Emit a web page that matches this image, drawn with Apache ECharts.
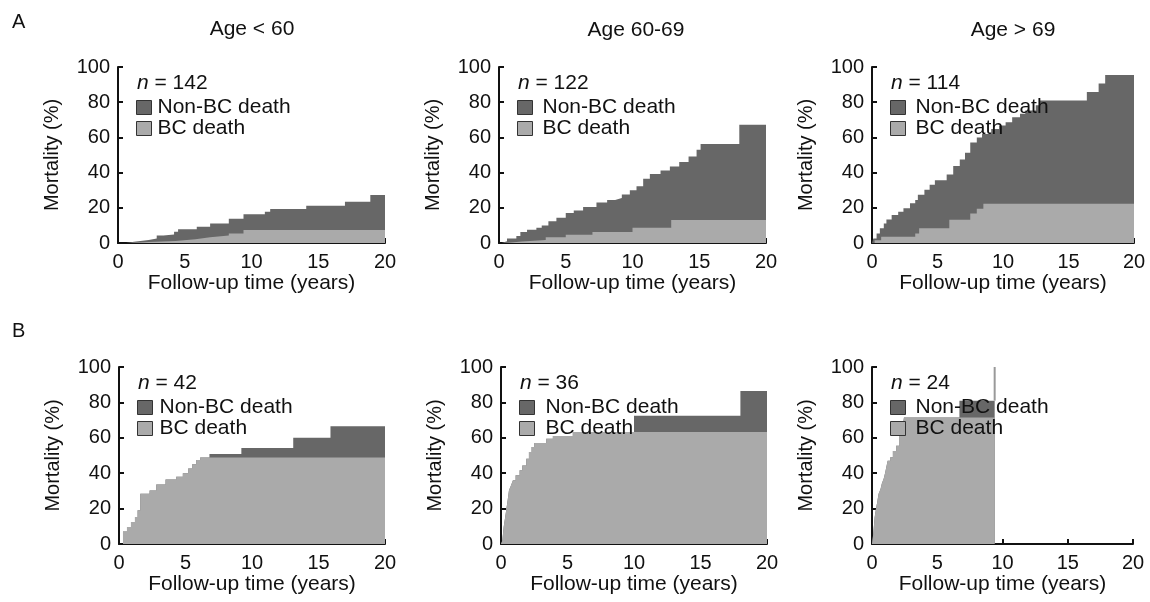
<!DOCTYPE html>
<html><head><meta charset="utf-8">
<script src="https://cdn.jsdelivr.net/npm/echarts@6/dist/echarts.min.js"></script>
<style>html,body{margin:0;padding:0;background:#fff}#c{width:1150px;height:602px}</style>
</head><body><div id="c"></div>
<script>
// ---------- data ----------
const rowLetters = ['A', 'B'];
const panelTitles = ['Age < 60', 'Age 60-69', 'Age > 69'];
const sampleSizes = [142, 122, 114, 42, 36, 24];
const seriesNames = ['Non-BC death', 'BC death'];
const xName = 'Follow-up time (years)';
const yName = 'Mortality (%)';
const xTickValues = [0, 5, 10, 15, 20];
const yTickValues = [0, 20, 40, 60, 80, 100];

// cumulative mortality [years, %]; "total" = BC + non-BC (top of the dark area)
const a1Total = [[0,0],[0.6,0.7],[1.2,1.7],[2.3,2.5],[2.9,4.3],[3.4,4.9],[4.2,6.4],[4.5,7.8],[5.9,9.3],[6.9,11.1],[8.3,13.8],[9.4,16.3],[11.0,17.8],[11.4,19.3],[14.1,21.2],[17.0,23.5],[18.9,27.3],[20,27.3]];
const a1Bc    = [[0,0],[1.0,0.5],[2.3,1.2],[4.3,2.1],[5.8,3.2],[6.9,4.2],[8.3,5.4],[9.4,7.4],[20,7.4]];

const a2Total = [[0,0],[0.2,1],[0.6,2.5],[1.3,4],[1.6,6.2],[2.1,7.5],[2.8,8.7],[3.2,10],[3.7,12.4],[4.3,14.3],[5.0,17.0],[5.6,18.5],[6.3,20.5],[7.3,23],[8.1,24.5],[8.7,25.5],[9.2,27.5],[9.8,30],[10.3,32.2],[10.8,36.5],[11.3,39.2],[12.1,41.2],[12.8,43.5],[13.5,46],[14.2,49.2],[14.8,53],[15.1,56.3],[18.0,67.2],[20,67.2]];
const a2Bc    = [[0,0],[0.5,0.8],[1.7,1.7],[3.5,3.2],[5.0,4.7],[7.0,6.3],[10.0,8.7],[12.9,13],[20,13]];

const a3Total = [[0,0],[0.1,2.5],[0.35,5.4],[0.6,8.4],[0.9,11.1],[1.1,13.4],[1.5,15.9],[2.0,17.8],[2.4,19.7],[2.9,22.6],[3.3,24.5],[3.5,27.4],[4.0,30.3],[4.4,33.1],[4.8,35.6],[5.7,38.9],[6.2,43.7],[6.7,47.5],[7.1,51.3],[7.5,57.1],[8.0,60],[8.4,61.9],[9.1,64.8],[9.7,66.7],[10.2,68.6],[10.7,71.5],[11.3,73.4],[11.7,75.3],[12.5,78.2],[12.8,81],[16.4,85.8],[17.3,90.6],[17.8,95.4],[20,95.4]];
const a3Bc    = [[0,0],[0.2,1.5],[0.7,3.6],[3.3,5.4],[3.6,8.4],[5.9,13.2],[7.5,16.7],[8.0,19.5],[8.5,22.3],[20,22.3]];

const b1Bc    = [[0,0],[0.3,7],[0.6,9.6],[0.9,12.4],[1.2,15.3],[1.4,19],[1.6,28.4],[2.3,30.2],[2.8,33.6],[3.5,36.5],[4.3,38],[4.8,40],[5.2,42.6],[5.5,45],[5.8,47.5],[6.1,48.8],[20,48.8]];
const b1Total = [[0,0],[0.3,7],[0.6,9.6],[0.9,12.4],[1.2,15.3],[1.4,19],[1.6,28.4],[2.3,30.2],[2.8,33.6],[3.5,36.5],[4.3,38],[4.8,40],[5.2,42.6],[5.5,45],[5.8,47.5],[6.1,48.8],[6.8,50.8],[9.2,54.2],[13.1,60],[15.9,66.5],[20,66.5]];

const b2Bc    = [[0,0],[0.1,2],[0.2,9.6],[0.35,17],[0.5,24.7],[0.6,30.3],[0.75,33],[0.9,36],[1.1,38.8],[1.4,41.6],[1.6,44.4],[1.9,48.2],[2.1,52],[2.3,54.8],[2.5,57],[3.4,59.5],[3.9,61],[5.4,63.3],[20,63.3]];
const b2Total = [[0,0],[0.1,2],[0.2,9.6],[0.35,17],[0.5,24.7],[0.6,30.3],[0.75,33],[0.9,36],[1.1,38.8],[1.4,41.6],[1.6,44.4],[1.9,48.2],[2.1,52],[2.3,54.8],[2.5,57],[3.4,59.5],[3.9,61],[5.4,63.3],[10.0,72.5],[18.0,86.5],[20,86.5]];

const b3Bc    = [[0,0],[0.1,6],[0.2,15],[0.3,19.8],[0.4,23.6],[0.5,28.3],[0.65,31],[0.75,34],[0.9,37],[1.0,40],[1.1,43.5],[1.2,47],[1.4,49],[1.6,52.5],[1.85,55.5],[2.1,61],[2.3,64],[2.45,71.5],[9.4,71.5]];
const b3Total = [[0,0],[0.1,6],[0.2,15],[0.3,19.8],[0.4,23.6],[0.5,28.3],[0.65,31],[0.75,34],[0.9,37],[1.0,40],[1.1,43.5],[1.2,47],[1.4,49],[1.6,52.5],[1.85,55.5],[2.1,61],[2.3,64],[2.45,71.5],[6.7,81],[9.4,81]];
const b3FinalStep = [[9.4,81],[9.4,100]];

const totals = [a1Total, a2Total, a3Total, b1Total, b2Total, b3Total];
const bcs    = [a1Bc, a2Bc, a3Bc, b1Bc, b2Bc, b3Bc];

// ---------- layout / style ----------
const FONT = 'Liberation Sans, Arial, Helvetica, sans-serif';
const DARK = '#676767', LIGHT = '#aaaaaa', INK = '#111';
const grids = [
  {left:118, top:67,  width:267, height:176},
  {left:499, top:67,  width:267, height:176},
  {left:872, top:67,  width:262, height:176},
  {left:119, top:367, width:266, height:177},
  {left:501, top:367, width:266, height:177},
  {left:872, top:367, width:261, height:177}
];
const legendGap = [6, 10, 10, 7, 11, 10];
const titlePos = [[252, 29], [636, 30], [1013, 30]];
const letterPos = [[12, 22], [12, 331]];

const xAxes = [], yAxes = [], series = [], legends = [], graphics = [];
grids.forEach((g, i) => {
  xAxes.push({
    gridIndex: i, type: 'value', min: 0, max: 20, interval: 5,
    name: xName, nameLocation: 'middle', nameGap: 28,
    nameTextStyle: {fontSize: 21, color: INK, fontFamily: FONT},
    axisLine: {show: true, onZero: false, lineStyle: {color: INK, width: 2}},
    axisTick: {show: true, inside: true, length: 5, lineStyle: {color: INK, width: 2}},
    axisLabel: {fontSize: 20, color: INK, fontFamily: FONT, margin: 9,
      customValues: xTickValues},
    splitLine: {show: false}
  });
  yAxes.push({
    gridIndex: i, type: 'value', min: 0, max: 100, interval: 20,
    name: yName, nameLocation: 'middle', nameGap: 56,
    nameTextStyle: {fontSize: 20, color: INK, fontFamily: FONT},
    axisLine: {show: true, onZero: false, lineStyle: {color: INK, width: 2}},
    axisTick: {show: true, inside: true, length: 5, lineStyle: {color: INK, width: 2}},
    axisLabel: {fontSize: 20, color: INK, fontFamily: FONT, margin: 8},
    splitLine: {show: false}
  });
  series.push({
    type: 'line', name: seriesNames[0], data: totals[i], step: 'end',
    xAxisIndex: i, yAxisIndex: i, symbol: 'none', silent: true,
    lineStyle: {width: 0}, itemStyle: {color: DARK},
    areaStyle: {color: DARK, opacity: 1}, z: 2
  });
  series.push({
    type: 'line', name: seriesNames[1], data: bcs[i], step: 'end',
    xAxisIndex: i, yAxisIndex: i, symbol: 'none', silent: true,
    lineStyle: {width: 0}, itemStyle: {color: LIGHT},
    areaStyle: {color: LIGHT, opacity: 1}, z: 3
  });
  legends.push({
    left: g.left + 18, top: g.top + 40.5 - 10.5, orient: 'vertical',
    padding: 0, itemGap: 0, itemWidth: 15, itemHeight: 14, icon: 'rect',
    selectedMode: false, data: seriesNames,
    itemStyle: {borderColor: '#333', borderWidth: 1},
    textStyle: {fontSize: 21, lineHeight: 21, color: INK, fontFamily: FONT,
      padding: [0, 0, 0, legendGap[i] - 5]},
    z: 10
  });
  graphics.push({
    type: 'text', left: g.left + 19, top: g.top + 16.5 - 11, z: 100,
    style: {text: '{i|n} = ' + sampleSizes[i], fontSize: 21, fill: INK, fontFamily: FONT,
      rich: {i: {fontStyle: 'italic', fontSize: 21, fontFamily: FONT, fill: INK}}}
  });
});
series.push({
  type: 'line', name: 'final step', data: b3FinalStep,
  xAxisIndex: 5, yAxisIndex: 5, symbol: 'none', silent: true,
  lineStyle: {width: 2, color: '#999'}, z: 4
});
panelTitles.forEach((t, j) => {
  graphics.push({type: 'text', x: titlePos[j][0], y: titlePos[j][1], z: 100,
    style: {text: t, fontSize: 21, fill: INK, fontFamily: FONT, align: 'center', verticalAlign: 'middle'}});
});
rowLetters.forEach((t, j) => {
  graphics.push({type: 'text', x: letterPos[j][0], y: letterPos[j][1], z: 100,
    style: {text: t, fontSize: 20, fill: INK, fontFamily: FONT, align: 'left', verticalAlign: 'middle'}});
});

const chart = echarts.init(document.getElementById('c'), null, {renderer: 'canvas'});
chart.setOption({
  animation: false,
  backgroundColor: '#fff',
  textStyle: {fontFamily: FONT},
  grid: grids.map(g => Object.assign({containLabel: false}, g)),
  xAxis: xAxes, yAxis: yAxes, series: series, legend: legends, graphic: graphics
});
</script></body></html>
